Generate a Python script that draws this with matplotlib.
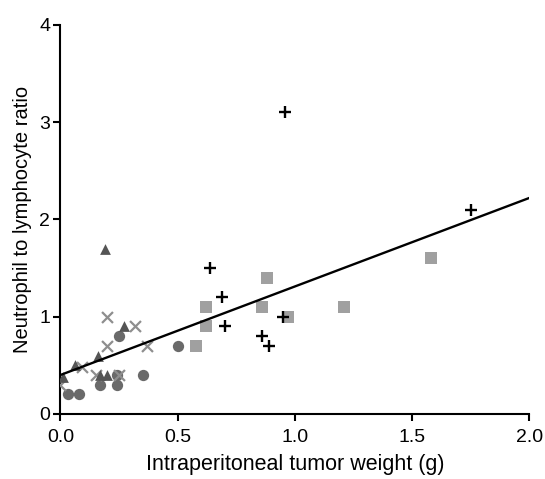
import numpy as np
import matplotlib.pyplot as plt

plt.rcParams['font.family'] = ['Liberation Sans', 'DejaVu Sans']

# groups: tumor weight (g), NLR
circle_x = [0.25, 0.50, 0.35, 0.24, 0.17, 0.24, 0.03, 0.08]
circle_y = [0.80, 0.70, 0.40, 0.40, 0.30, 0.30, 0.20, 0.20]

tri_x = [0.19, 0.27, 0.16, 0.06, 0.01, 0.17, 0.20]
tri_y = [1.70, 0.90, 0.60, 0.50, 0.38, 0.40, 0.40]

cross_x = [0.20, 0.32, 0.20, 0.37, 0.09, 0.15, 0.25, 0.00]
cross_y = [1.00, 0.90, 0.70, 0.70, 0.48, 0.40, 0.40, 0.30]

square_x = [0.62, 0.62, 0.58, 0.88, 0.86, 1.21, 0.97, 1.58]
square_y = [1.10, 0.90, 0.70, 1.40, 1.10, 1.10, 1.00, 1.60]

plus_x = [0.64, 0.69, 0.70, 0.86, 0.89, 0.95, 0.96, 1.75]
plus_y = [1.50, 1.20, 0.90, 0.80, 0.70, 1.00, 3.10, 2.10]

# regression line
fit_intercept = 0.40
fit_slope = 0.91
fit_range = [0.0, 2.0]

fig = plt.figure(figsize=(5.45, 4.79), dpi=100)
ax = fig.add_axes([0.111, 0.136, 0.860, 0.812])

ax.scatter(square_x, square_y, marker='s', s=75, color='#a0a0a0', linewidths=0, zorder=3)
ax.scatter(circle_x, circle_y, marker='o', s=66, color='#6a6a6a', linewidths=0, zorder=3)
ax.scatter(cross_x, cross_y, marker='x', s=62, color='#8e8e8e', linewidths=1.6, zorder=3)
ax.scatter(tri_x, tri_y, marker='^', s=60, color='#555555', linewidths=0, zorder=4)
ax.scatter(plus_x, plus_y, marker='+', s=85, color='black', linewidths=1.7, zorder=5)

xx = np.array(fit_range)
ax.plot(xx, fit_intercept + fit_slope * xx, color='black', lw=1.7, zorder=6)

ax.set_xlim(0, 2.0)
ax.set_ylim(0, 4)
ax.set_xticks([0.0, 0.5, 1.0, 1.5, 2.0])
ax.set_xticklabels(['0.0', '0.5', '1.0', '1.5', '2.0'])
ax.set_yticks([0, 1, 2, 3, 4])

for s in ['top', 'right']:
    ax.spines[s].set_visible(False)
for s in ['left', 'bottom']:
    ax.spines[s].set_linewidth(1.5)
ax.tick_params(axis='both', direction='out', length=5, width=1.5, labelsize=14)
ax.tick_params(axis='x', pad=6)
ax.tick_params(axis='y', pad=2.5)

ax.set_xlabel('Intraperitoneal tumor weight (g)', fontsize=15.5, labelpad=6)
ax.set_ylabel('Neutrophil to lymphocyte ratio', fontsize=14.5, labelpad=5)

for lab in ax.get_xticklabels():
    lab.set_clip_on(False)

fig.savefig('out.png', dpi=100)
